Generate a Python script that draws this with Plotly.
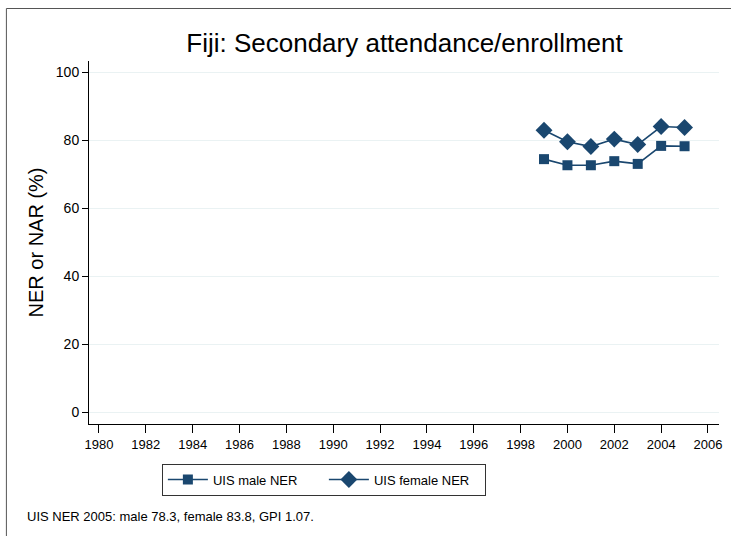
import plotly.graph_objects as go

years = [1999, 2000, 2001, 2002, 2003, 2004, 2005]
male_ner = [74.5, 72.7, 72.7, 73.9, 73.1, 78.4, 78.3]
female_ner = [83.0, 79.6, 78.2, 80.4, 78.8, 84.1, 83.8]
x_ticks = list(range(1980, 2007, 2))
y_ticks = [0, 20, 40, 60, 80, 100]

title = "Fiji: Secondary attendance/enrollment"
note = "UIS NER 2005: male 78.3, female 83.8, GPI 1.07."
navy = "#1a476f"
font = "Liberation Sans, Arial, sans-serif"

W, H = 731, 536
L, R, T, B = 89, 722, 61, 424
pw, ph = R - L, B - T

def px(x):
    return (x - L) / pw

def py(y):
    return (B - y) / ph

fig = go.Figure()
fig.add_trace(go.Scatter(x=years, y=male_ner, mode="lines+markers", name="UIS male NER",
                         line=dict(color=navy, width=1.6),
                         marker=dict(symbol="square", size=10, color=navy)))
fig.add_trace(go.Scatter(x=years, y=female_ner, mode="lines+markers", name="UIS female NER",
                         line=dict(color=navy, width=1.6),
                         marker=dict(symbol="diamond", size=13, color=navy)))

fig.update_layout(
    width=W, height=H,
    margin=dict(l=L, r=W - R, t=T, b=H - B),
    paper_bgcolor="white", plot_bgcolor="white",
    font=dict(family=font, size=13, color="#000"),
    title=dict(text=title, x=px(406), xref="paper", xanchor="center",
               y=1 - 42.5 / H, yanchor="middle", font=dict(size=26, color="#000")),
    showlegend=True,
    legend=dict(orientation="h", x=px(325), y=py(479.5), xanchor="center", yanchor="middle",
                bordercolor="#333", borderwidth=1, bgcolor="white",
                font=dict(size=13), entrywidth=106, itemwidth=40),
    xaxis=dict(range=[1979.575, 2006.47], tickvals=x_ticks, showgrid=False, zeroline=False,
               showline=True, linecolor="#000", linewidth=1,
               ticks="outside", ticklen=8, tickcolor="#000", tickfont=dict(size=13)),
    yaxis=dict(range=[-3.5, 103.4], tickvals=y_ticks, showgrid=True, gridcolor="#eaf2f3",
               gridwidth=1, zeroline=False, showline=True, linecolor="#000", linewidth=1,
               ticks="outside", ticklen=6, tickcolor="#000", tickfont=dict(size=14),
               title=dict(text="NER or NAR (%)", font=dict(size=20), standoff=6)),
)

fig.add_annotation(text=note, xref="paper", yref="paper", x=px(25), y=py(516.5),
                   xanchor="left", yanchor="middle", showarrow=False, font=dict(size=13))

# outer frame lines
fig.add_shape(type="line", xref="paper", yref="paper", x0=px(6), x1=px(W + 5),
              y0=py(8.5), y1=py(8.5), line=dict(color="#555", width=1))
fig.add_shape(type="line", xref="paper", yref="paper", x0=px(6), x1=px(6),
              y0=py(8.5), y1=py(H + 5), line=dict(color="#555", width=1))

fig.write_html("out.html", config={"displayModeBar": False},
               post_script="document.body.style.margin='0';document.body.style.overflow='hidden';")
